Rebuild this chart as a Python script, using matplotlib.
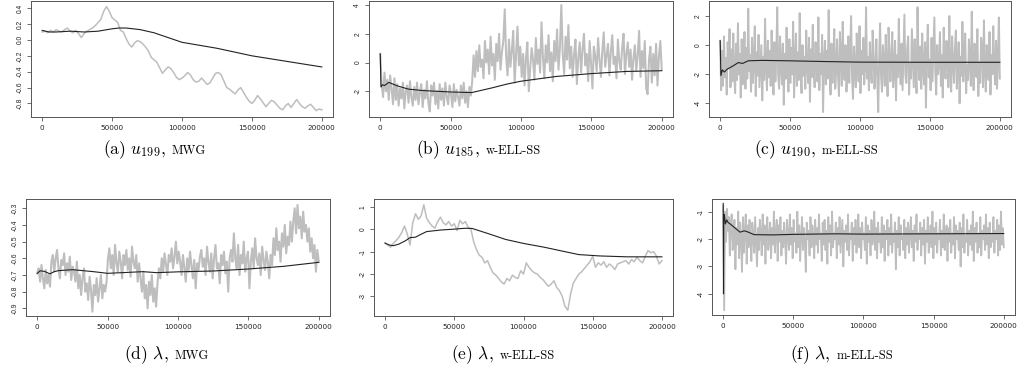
import numpy as np
import matplotlib
matplotlib.use("Agg")
import matplotlib.pyplot as plt

plt.rcParams['mathtext.fontset'] = 'cm'

# ---------------- data ----------------
x_ticks = [0, 50000, 100000, 150000, 200000]
x_ticklabels = ["0", "50000", "100000", "150000", "200000"]
n_iter = 200000

# (a) u_199, MWG
a_trace = [0.10, 0.11, 0.09, 0.12, 0.10, 0.13, 0.11, 0.10, 0.13, 0.15, 0.11, 0.09, 0.12, 0.08, 0.03,
           0.08, 0.11, 0.13, 0.15, 0.18, 0.22, 0.26, 0.36, 0.42, 0.36, 0.28, 0.25, 0.22, 0.12, 0.10,
           0.02, -0.05, -0.09, -0.04, -0.01, -0.02, -0.05, -0.09, -0.14, -0.22, -0.25, -0.28, -0.35,
           -0.42, -0.38, -0.34, -0.36, -0.41, -0.47, -0.50, -0.48, -0.45, -0.41, -0.44, -0.50, -0.53,
           -0.52, -0.48, -0.52, -0.56, -0.54, -0.48, -0.42, -0.41, -0.44, -0.52, -0.60, -0.62, -0.65,
           -0.68, -0.63, -0.60, -0.66, -0.72, -0.77, -0.80, -0.76, -0.70, -0.74, -0.79, -0.84, -0.80,
           -0.76, -0.78, -0.82, -0.86, -0.88, -0.83, -0.80, -0.85, -0.80, -0.75, -0.80, -0.84, -0.86,
           -0.83, -0.81, -0.85, -0.89, -0.87, -0.88]
a_mean_iter = [0, 5000, 10000, 20000, 30000, 40000, 50000, 55000, 60000, 70000, 80000, 100000,
               125000, 150000, 175000, 200000]
a_mean = [0.12, 0.10, 0.10, 0.11, 0.10, 0.11, 0.14, 0.15, 0.15, 0.13, 0.09, -0.03, -0.105, -0.20,
          -0.27, -0.34]
a_yticks = [-0.8, -0.6, -0.4, -0.2, 0.0, 0.2, 0.4]
a_yticklabels = ["-0.8", "-0.6", "-0.4", "-0.2", "0.0", "0.2", "0.4"]

# (b) u_185, w-ELL-SS
b_trace = [0.6, -1.5, -2.4, -0.7, -2.0, -1.2, -2.6, -0.9, -1.8, -2.9, -1.1,
           -2.6, -1.5, -3.0, -1.8, -2.5, -1.4, -3.2, -2.0, -1.6, -2.8, -1.3, -2.4, -3.0, -1.7, -2.6,
           -1.4, -2.9, -2.1, -1.5, -3.1, -1.9, -2.5, -1.3, -2.8, -3.4, -1.6, -2.3, -1.4, -2.9, -2.0,
           -3.2, -1.5, -2.6, -1.8, -3.0, -1.4, -2.4, -2.9, -1.6, -2.2, -3.1, -1.5, -2.7, -1.9, -2.4,
           -3.0, -1.6, -2.5, -1.4, -2.8, -2.0, -3.1, -1.7, -2.3, -1.3,
           0.5, -1.0, 0.8, -0.6, 1.2, -0.3, 0.2, -1.1, 1.5, 0.0, 0.9, -0.8, 1.8, -0.2, 0.6,
           -1.2, 1.3, 0.1, 2.0, -0.5, 0.7, 1.5, 3.7, 0.4, -0.9, 1.6, -0.3, 0.8, 2.2, -1.4, 0.5, 2.5,
           -0.2, 1.1,
           -1.0, 0.6, -1.6, 0.3, 1.4, -2.0, -0.4, 1.0, 0.2, -1.2, 1.7, -0.1, 0.9, -0.7, 2.8, 0.4,
           -1.1, 1.2, 0.0, 1.9, -0.6,
           0.7, -1.3, 1.5, 0.1, 2.3, -0.5, 1.0, 4.0, 0.6, -0.8, 1.8, 0.2, 2.6, -0.4, 1.1, -1.0, 0.5,
           1.6, -1.5, 0.3,
           1.4, -0.7, 0.9, 2.0, -0.2, 0.6, -1.3, 1.5, 0.0, -1.8, 1.1, 0.4, -0.6, 1.7, 0.2, -1.0, 0.8,
           2.1, -0.3, 0.5,
           1.3, -0.9, 0.7, 1.9, -0.1, 0.4, -1.1, 1.6, 0.1, -0.5, 1.0, 2.0, -0.8, 0.6, 1.4, -0.3, 0.9,
           -1.2, 0.3, 1.2,
           -0.6, 0.5, 2.2, -1.0, 0.8, -0.4, 1.5, -1.8, -2.2, 0.2, 1.1, -1.4, 0.6, -0.9, 1.3, -1.6,
           0.4, 1.5, -0.5]
b_mean_iter = [0, 500, 1500, 3000, 4500, 6000, 9000, 12000, 20000, 30000, 50000, 65000, 80000,
               90000, 100000, 125000, 150000, 175000, 200000]
b_mean = [0.6, -1.7, -1.55, -1.6, -1.5, -1.38, -1.5, -1.62, -1.85, -1.95, -2.05, -2.09, -1.75,
          -1.5, -1.3, -0.97, -0.77, -0.62, -0.57]
b_yticks = [-2, 0, 2, 4]
b_yticklabels = ["-2", "0", "2", "4"]

# (c) u_190, m-ELL-SS
c_trace = [0.3, -3.1, -0.4, -2.8, 0.6, -2.2, -0.9, -3.4, 0.2, -1.6, 1.1, -2.9, -0.3, -2.5, 0.8, -1.9, -3.3, 0.1, -2.4, 1.5,
           -2.0, -0.6, -3.6, 0.4, -2.7, -1.2, 0.9, -3.0, -0.2, -2.3, 2.5, -1.8, -0.7, -3.2, 0.5, -2.6, -1.0, 1.3, -3.5, -0.5,
           -2.1, 0.7, -2.9, -1.4, 0.0, -3.8, -0.8, -2.4, 1.8, -1.5, -3.1, 0.3, -2.2, -0.4, -2.8, 1.0, -1.7, -3.4, 0.2, -2.5,
           -0.9, 2.6, -2.0, -3.0, 0.6, -1.3, -2.7, 0.1, -4.1, -0.6, -2.3, 1.2, -1.9, -3.2, 0.4, -2.6, -0.2, -2.0, 1.6, -3.6,
           -1.1, 0.8, -2.8, -0.5, -2.4, 2.2, -1.6, -3.3, 0.0, -2.1, -0.8, -3.0, 1.0, -1.4, -2.6, 0.5, -3.9, -0.3, -2.2, 1.4,
           -1.8, -2.9, 0.2, -1.0, -2.5, 1.9, -3.1, -0.6, -2.0, 0.7, -4.6, -1.2, 0.3, -2.7, -0.4, -2.3, 2.4, -1.5, -3.4, 0.1,
           -2.6, -0.9, 1.1, -3.0, -1.7, 0.4, -2.1, -3.5, 0.9, -0.7, -2.8, 1.6, -1.3, -2.4, 0.0, -3.2, -1.9, 0.6, -2.6, -0.5,
           2.0, -2.2, -3.7, -0.1, -1.6, -2.9, 0.8, -1.1, -2.5, 1.3, -3.3, -0.4, -2.0, 0.5, -2.7, -1.4, 2.6, -2.3, -0.8, -3.1,
           0.2, -1.8, -2.6, 1.0, -0.6, -3.0, -1.5, 0.4, -2.4, -4.6, -0.9, 1.5, -2.1, -3.2, 0.0, -1.2, -2.8, 0.7, -1.7, -3.5,
           1.2, -0.3, -2.5, -1.0, 0.9, -2.9, -1.6, 0.3, -3.8, -0.7, -2.2, 1.8, -1.4, -2.7, 0.1, -3.1, -0.5, 2.1, -2.0, -2.6,
           -0.2, 0.6, -3.4, -1.3, -2.3, 1.1, -0.8, -2.9, 0.4, -1.9, -3.3, 2.6, -1.1, -2.4, -0.1, -3.0, 0.8, -1.6, -2.7, 0.2,
           -4.3, -0.6, 1.4, -2.2, -1.0, -3.1, 0.5, -2.5, -0.4, 1.9, -1.8, -3.4, 0.0, -2.0, -1.3, 0.9, -2.8, -0.7, -3.6, 1.2,
           -1.5, -2.3, 0.3, -0.9, -2.9, 2.0, -1.7, -3.2, 0.6, -1.2, -2.6, -0.3, 1.0, -3.0, -1.9, 0.2, -4.0, -0.8, -2.1, 1.6,
           -2.5, -0.5, 0.8, -3.3, -1.4, -2.4, 0.4, -1.0, -2.8, 2.3, -1.6, -3.1, 0.1, -0.6, -2.2, 1.1, -3.5, -1.2, -2.6, 0.5,
           -0.2, -2.9, 1.7, -1.8, -3.2, 0.0, -1.1, -2.4, 0.9, -3.4, -0.7, -2.0, 1.3, -1.5, -2.7, 0.3, -3.0, -0.9, 1.9, -2.3]
c_mean_iter = [0, 500, 1500, 3000, 5000, 7000, 10000, 13000, 16000, 20000, 30000, 50000, 75000,
               100000, 150000, 200000]
c_mean = [0.3, -2.1, -1.7, -1.85, -1.65, -1.55, -1.38, -1.2, -1.26, -1.08, -1.05, -1.08, -1.13,
          -1.17, -1.18, -1.18]
c_yticks = [-4, -2, 0, 2]
c_yticklabels = ["-4", "-2", "0", "2"]

# (d) lambda, MWG
d_trace = [-0.69, -0.66, -0.74, -0.64, -0.72, -0.78, -0.67, -0.75, -0.70, -0.77,
           -0.62, -0.58, -0.68, -0.60, -0.55, -0.66, -0.72, -0.61, -0.64, -0.57, -0.70, -0.63,
           -0.68, -0.59, -0.73, -0.65,
           -0.68, -0.74, -0.62, -0.78, -0.70, -0.82, -0.72, -0.66, -0.80, -0.75, -0.85, -0.71,
           -0.79, -0.92, -0.76,
           -0.82, -0.72, -0.86, -0.78, -0.70, -0.84, -0.76, -0.80, -0.74,
           -0.60, -0.54, -0.66, -0.58, -0.70, -0.52, -0.63, -0.68, -0.56, -0.62, -0.72, -0.58,
           -0.64, -0.55, -0.67, -0.60, -0.71, -0.53, -0.62, -0.66, -0.58, -0.74, -0.63,
           -0.72, -0.80, -0.68, -0.84, -0.76, -0.90, -0.74, -0.82, -0.70, -0.86, -0.78, -0.89, -0.75,
           -0.66, -0.72, -0.60, -0.68, -0.57, -0.64, -0.70, -0.58, -0.62, -0.54, -0.66, -0.59,
           -0.50, -0.63, -0.56,
           -0.62, -0.70, -0.58, -0.66, -0.74, -0.60, -0.68, -0.56, -0.64, -0.72, -0.61, -0.78,
           -0.63, -0.67, -0.59,
           -0.55, -0.65, -0.60, -0.70, -0.53, -0.62, -0.68, -0.57, -0.72, -0.60, -0.52, -0.66,
           -0.63, -0.75, -0.58, -0.64, -0.56, -0.69, -0.62, -0.80, -0.60,
           -0.55, -0.62, -0.45, -0.60, -0.66, -0.52, -0.70, -0.58, -0.63, -0.50, -0.68, -0.60,
           -0.56, -0.78, -0.62, -0.54, -0.66, -0.48, -0.60, -0.64, -0.57, -0.70, -0.53, -0.61,
           -0.67, -0.56, -0.62, -0.72, -0.58, -0.64,
           -0.48, -0.58, -0.42, -0.55, -0.50, -0.62, -0.45, -0.53, -0.40, -0.57, -0.47, -0.52,
           -0.38, -0.50,
           -0.38, -0.30, -0.45, -0.28, -0.42, -0.35, -0.48, -0.32, -0.44, -0.40,
           -0.50, -0.42, -0.56, -0.48, -0.60, -0.52, -0.68, -0.55, -0.62]
d_mean_iter = [0, 2000, 5000, 9000, 12000, 15000, 25000, 40000, 50000, 75000, 85000, 100000,
               125000, 150000, 175000, 200000]
d_mean = [-0.69, -0.675, -0.678, -0.693, -0.68, -0.674, -0.668, -0.68, -0.69, -0.68, -0.686,
          -0.681, -0.676, -0.664, -0.648, -0.624]
d_yticks = [-0.9, -0.8, -0.7, -0.6, -0.5, -0.4, -0.3]
d_yticklabels = ["-0.9", "-0.8", "-0.7", "-0.6", "-0.5", "-0.4", "-0.3"]

# (e) lambda, w-ELL-SS
e_trace = [-0.60, -0.70, -0.80, -0.62, -0.50, -0.35, -0.15, 0.15, -0.20, -0.70, 0.30, 0.70, 0.45,
           0.60, 1.10, 0.50, 0.30, 0.15, 0.05, 0.35, 0.55, 0.30, 0.20, 0.35, 0.15, 0.25, -0.05,
           0.40, 0.25, 0.35, 0.10, 0.00, -0.55, -0.90, -1.15, -1.25, -1.50, -1.40, -1.70, -1.95,
           -2.05, -2.20, -2.35, -2.45, -2.20, -2.30, -2.05, -2.15, -2.20, -1.85, -2.00, -1.50,
           -1.70, -1.85, -1.95, -2.00, -2.15, -2.25, -2.40, -2.55, -2.45, -2.30, -2.60, -2.75,
           -3.00, -3.45, -3.62, -2.90, -2.40, -2.20, -2.00, -1.90, -1.75, -1.60, -1.45, -1.20,
           -1.70, -1.50, -1.60, -1.45, -1.70, -1.55, -1.65, -1.80, -1.55, -1.50, -1.45, -1.40,
           -1.55, -1.35, -1.45, -1.25, -1.40, -1.50, -1.20, -0.95, -1.05, -1.00, -1.20, -1.55,
           -1.40]
e_mean_iter = [0, 3000, 6000, 10000, 15000, 18000, 22000, 25000, 30000, 40000, 50000, 58000,
               63000, 75000, 87000, 100000, 115000, 130000, 140000, 155000, 175000, 200000]
e_mean = [-0.62, -0.70, -0.73, -0.66, -0.50, -0.37, -0.35, -0.25, -0.10, -0.03, 0.01, 0.05,
          0.04, -0.20, -0.45, -0.63, -0.80, -1.00, -1.13, -1.19, -1.23, -1.23]
e_yticks = [-3, -2, -1, 0, 1]
e_yticklabels = ["-3", "-2", "-1", "0", "1"]

# (f) lambda, m-ELL-SS
f_trace = [-0.8, -4.6, -1.0, -2.1, -0.9, -1.7, -1.2, -2.6, -1.5, -1.1, -2.4, -1.9, -1.3, -3.1, -1.6, -2.2, -1.0, -2.7, -1.4, -2.0,
           -3.2, -1.2, -2.5, -1.7, -1.1, -2.9, -1.5, -2.3, -1.3, -2.0, -2.8, -1.4, -1.9, -2.5, -1.2, -2.1, -3.0, -1.6, -2.4, -1.3,
           -1.8, -2.6, -1.1, -2.2, -1.5, -2.9, -1.7, -1.2, -2.4, -2.0, -1.4, -2.7, -1.6, -2.2, -1.0, -2.5, -1.8, -1.3, -2.8, -1.5,
           -2.1, -1.2, -2.6, -1.7, -2.3, -1.4, -2.0, -2.9, -1.3, -1.9, -2.4, -1.1, -2.2, -1.6, -2.7, -1.3, -2.1, -1.8, -2.5, -1.0,
           -2.3, -1.5, -2.8, -1.9, -1.2, -2.4, -1.6, -2.1, -3.2, -1.4, -2.0, -1.7, -2.6, -1.2, -2.3, -1.5, -1.9, -2.7, -1.3, -2.2,
           -1.6, -2.5, -1.1, -2.0, -1.8, -2.8, -1.4, -2.2, -1.3, -2.4, -1.7, -2.9, -1.2, -2.1, -1.5, -2.6, -1.0, -2.3, -1.8, -2.0,
           -1.4, -2.7, -1.6, -2.2, -1.2, -2.5, -1.9, -1.3, -3.0, -1.7, -2.1, -1.5, -2.4, -1.1, -2.6, -1.8, -2.0, -1.4, -2.8, -1.6,
           -2.2, -1.3, -2.5, -1.9, -1.1, -2.3, -1.6, -2.7, -1.4, -2.0, -1.8, -2.4, -1.2, -2.9, -1.5, -2.1, -1.7, -2.6, -1.3, -2.2,
           -1.9, -1.0, -2.4, -1.6, -2.7, -1.4, -2.1, -1.8, -2.5, -1.2, -2.3, -1.5, -2.8, -1.7, -2.0, -1.3, -2.6, -1.6, -2.2, -1.1,
           -2.5, -1.8, -2.1, -1.4, -3.1, -1.7, -2.3, -1.2, -2.6, -1.5, -2.0, -1.9, -2.4, -1.3, -2.7, -1.6, -2.2, -1.4, -2.5, -1.8,
           -1.2, -2.3, -1.7, -2.8, -1.5, -2.1, -1.1, -2.4, -1.8, -2.0, -1.4, -2.6, -1.6, -2.2, -1.3, -2.9, -1.7, -2.1, -1.2, -2.5,
           -1.9, -1.5, -2.3, -1.0, -2.7, -1.6, -2.2, -1.4, -2.5, -1.8, -2.0, -1.3, -2.6, -1.7, -2.3, -1.1, -2.4, -1.9, -1.5, -2.8,
           -1.6, -2.1, -1.3, -2.5, -1.8, -2.2, -1.2, -2.7, -1.5, -2.0, -1.7, -2.4, -1.4, -3.0, -1.6, -2.3, -1.1, -2.5, -1.9, -2.1,
           -1.3, -2.6, -1.7, -2.2, -1.5, -2.4, -1.0, -2.8, -1.6, -2.1, -1.4, -2.5, -1.8, -2.3, -1.2, -2.6, -1.7, -2.0, -1.5, -2.4,
           -1.1, -2.2, -1.6, -2.7, -1.4, -2.3, -1.8, -2.1, -1.2, -2.5, -1.7, -2.0, -1.3, -2.6, -1.5, -2.4, -1.0, -2.2, -1.6, -2.3]
f_mean_iter = [0, 200, 400, 800, 1500, 2500, 3500, 5000, 8000, 12000, 15000, 18000, 22000,
               35000, 50000, 80000, 100000, 150000, 200000]
f_mean = [-0.7, -4.0, -1.3, -1.1, -1.45, -1.3, -1.4, -1.45, -1.58, -1.75, -1.70, -1.75, -1.84,
          -1.85, -1.83, -1.81, -1.82, -1.81, -1.80]
f_yticks = [-4, -3, -2, -1]
f_yticklabels = ["-4", "-3", "-2", "-1"]

# ---------------- layout ----------------
W, H = 1018, 371
fig = plt.figure(figsize=(W / 100, H / 100), dpi=100)

panels = [
    # (left, right, top, bottom), trace, mean_iter, mean, yticks, labels, ylim, trace lw, caption
    ((31, 333, 1, 117), a_trace, a_mean_iter, a_mean, a_yticks, a_yticklabels, (-0.97, 0.49), 1.1,
     (103, 154, r"(a) $u_{199}$,", "MWG")),
    ((369, 673, 1, 117), b_trace, b_mean_iter, b_mean, b_yticks, b_yticklabels, (-3.79, 4.28), 1.45,
     (416, 154, r"(b) $u_{185}$,", "w-ELL-SS")),
    ((709, 1011, 1, 117), c_trace, c_mean_iter, c_mean, c_yticks, c_yticklabels, (-4.94, 3.03), 1.4,
     (754, 154, r"(c) $u_{190}$,", "m-ELL-SS")),
    ((26, 330, 199, 316), d_trace, d_mean_iter, d_mean, d_yticks, d_yticklabels, (-0.946, -0.244), 1.5,
     (124, 359, r"(d) $\lambda$,", "MWG")),
    ((374, 673, 199, 316), e_trace, e_mean_iter, e_mean, e_yticks, e_yticklabels, (-3.88, 1.36), 1.1,
     (451, 359, r"(e) $\lambda$,", "w-ELL-SS")),
    ((712, 1015, 199, 315), f_trace, f_mean_iter, f_mean, f_yticks, f_yticklabels, (-4.77, -0.54), 1.3,
     (790, 359, r"(f) $\lambda$,", "m-ELL-SS")),
]

box_col = "#555555"
xtick_font = dict(family="DejaVu Sans", size=5.2, color="#222222")
ytick_font = dict(family="Liberation Sans", size=4.8, color="#222222")

for (l, r, t, b), trace, miter, mval, yt, ytl, ylim, tlw, cap in panels:
    ax = fig.add_axes([l / W, 1 - b / H, (r - l) / W, (b - t) / H])
    xs = np.linspace(0, n_iter, len(trace))
    ax.plot(xs, trace, color="#BEBEBE", lw=tlw)
    ax.plot(miter, mval, color="#222222", lw=0.8)
    ax.set_xlim(-8000, 208000)
    ax.set_ylim(*ylim)
    ax.set_xticks(x_ticks)
    ax.set_xticklabels(x_ticklabels, fontdict=xtick_font)
    ax.set_yticks(yt)
    ax.set_yticklabels(ytl, fontdict=ytick_font, rotation=90, va="center")
    ax.tick_params(axis="both", length=3, width=0.6, color=box_col, pad=2.5)
    for s in ax.spines.values():
        s.set_color(box_col)
        s.set_linewidth(0.7)

    cx, cy, main, sc = cap
    t1 = fig.text(cx / W, 1 - cy / H, main, family="cmr10", fontsize=12.5,
                  ha="left", va="baseline")
    fig.canvas.draw()
    bb = t1.get_window_extent()
    fig.text((bb.x1 + 6) / W, 1 - cy / H, sc, family="cmr10", fontsize=9,
             ha="left", va="baseline")

fig.savefig("out.png", dpi=100)
